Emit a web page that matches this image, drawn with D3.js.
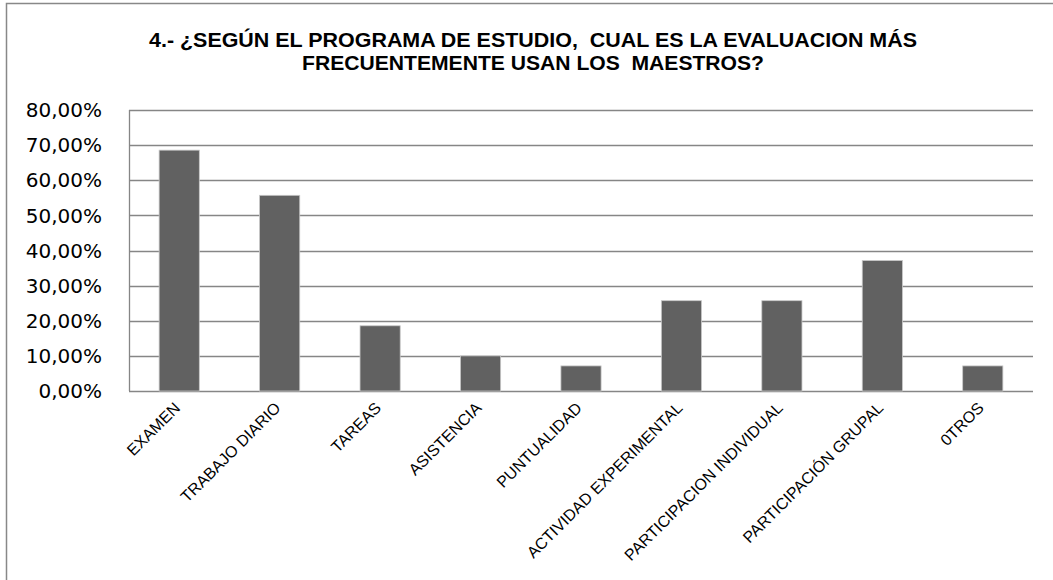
<!DOCTYPE html>
<html>
<head>
<meta charset="utf-8">
<script src="https://cdn.jsdelivr.net/npm/d3@7"></script>
<style>
  body { margin: 0; background: #fff; }
  .title { font-family: "Liberation Sans", Arial, sans-serif; font-weight: bold; font-size: 20px; fill: #000; }
  .ylab { font-family: "DejaVu Sans", sans-serif; font-size: 20px; fill: #000; }
  .xlab { font-family: "Liberation Sans", Arial, sans-serif; font-size: 16px; fill: #000; }
</style>
</head>
<body>
<div id="container"></div>
<script>
// data (n = 70 answers)
var categories = ["EXAMEN", "TRABAJO DIARIO", "TAREAS", "ASISTENCIA", "PUNTUALIDAD",
                  "ACTIVIDAD EXPERIMENTAL", "PARTICIPACION INDIVIDUAL", "PARTICIPACIÓN GRUPAL", "0TROS"];
var values = [0.6857, 0.5571, 0.1857, 0.10, 0.0714, 0.2571, 0.2571, 0.3714, 0.0714];
var yTicks = [0, 0.1, 0.2, 0.3, 0.4, 0.5, 0.6, 0.7, 0.8];
var titleLines = ["4.- ¿SEGÚN EL PROGRAMA DE ESTUDIO,  CUAL ES LA EVALUACION MÁS",
                  "FRECUENTEMENTE USAN LOS  MAESTROS?"];

var W = 1053, H = 580;
var plot = {left: 129, right: 1033, top: 110, bottom: 391};

var svg = d3.select("#container")
  .append("svg")
    .attr("width", W)
    .attr("height", H);

// chart border
svg.append("rect")
    .attr("x", 6.5).attr("y", 3.5)
    .attr("width", W + 10).attr("height", H + 10)
    .attr("fill", "#fff")
    .attr("stroke", "#888")
    .attr("stroke-width", 1.5);

// title (widths stretched to match the original)
var titleWidths = [768, 462];
svg.selectAll(".title")
    .data(titleLines)
    .enter().append("text")
    .attr("class", "title")
    .attr("x", 533)
    .attr("y", function(d, i) { return 47 + i * 23; })
    .attr("text-anchor", "middle")
    .attr("textLength", function(d, i) { return titleWidths[i]; })
    .attr("lengthAdjust", "spacingAndGlyphs")
    .style("white-space", "pre")
    .text(function(d) { return d; });

var x = d3.scaleBand()
    .domain(categories)
    .range([plot.left, plot.right])
    .paddingInner(0.6)
    .paddingOuter(0.3);

var y = d3.scaleLinear()
    .domain([0, 0.8])
    .range([plot.bottom, plot.top]);

var fmt = function(v) { return d3.format(".2f")(v * 100).replace(".", ",") + "%"; };

// gridlines
svg.append("g")
  .selectAll("line")
  .data(yTicks)
  .enter().append("line")
    .attr("x1", plot.left).attr("x2", plot.right)
    .attr("y1", function(d) { return Math.round(y(d)) + 0.5; })
    .attr("y2", function(d) { return Math.round(y(d)) + 0.5; })
    .attr("stroke", "#868686")
    .attr("stroke-width", 1.3);

// vertical axis line
svg.append("line")
    .attr("x1", plot.left + 0.5).attr("x2", plot.left + 0.5)
    .attr("y1", plot.top).attr("y2", plot.bottom)
    .attr("stroke", "#868686")
    .attr("stroke-width", 1.3);

// y labels
svg.append("g")
  .selectAll("text")
  .data(yTicks)
  .enter().append("text")
    .attr("class", "ylab")
    .attr("x", 102)
    .attr("y", function(d) { return y(d); })
    .attr("dy", "0.36em")
    .attr("text-anchor", "end")
    .text(fmt);

// bars
svg.append("g")
  .selectAll("rect")
  .data(values)
  .enter().append("rect")
    .attr("x", function(d, i) { return x(categories[i]); })
    .attr("y", function(d) { return y(d); })
    .attr("width", x.bandwidth())
    .attr("height", function(d) { return y(0) - y(d); })
    .attr("fill", "#616161")
    .attr("stroke", "#c8c8c8")
    .attr("stroke-width", 0.8);

// x labels
svg.append("g")
  .selectAll("text")
  .data(categories)
  .enter().append("text")
    .attr("class", "xlab")
    .attr("text-anchor", "end")
    .attr("transform", function(d) {
        return "translate(" + (x(d) + x.bandwidth() / 2 + 2) + "," + 409 + ") rotate(-45)";
    })
    .text(function(d) { return d; });
</script>
</body>
</html>
